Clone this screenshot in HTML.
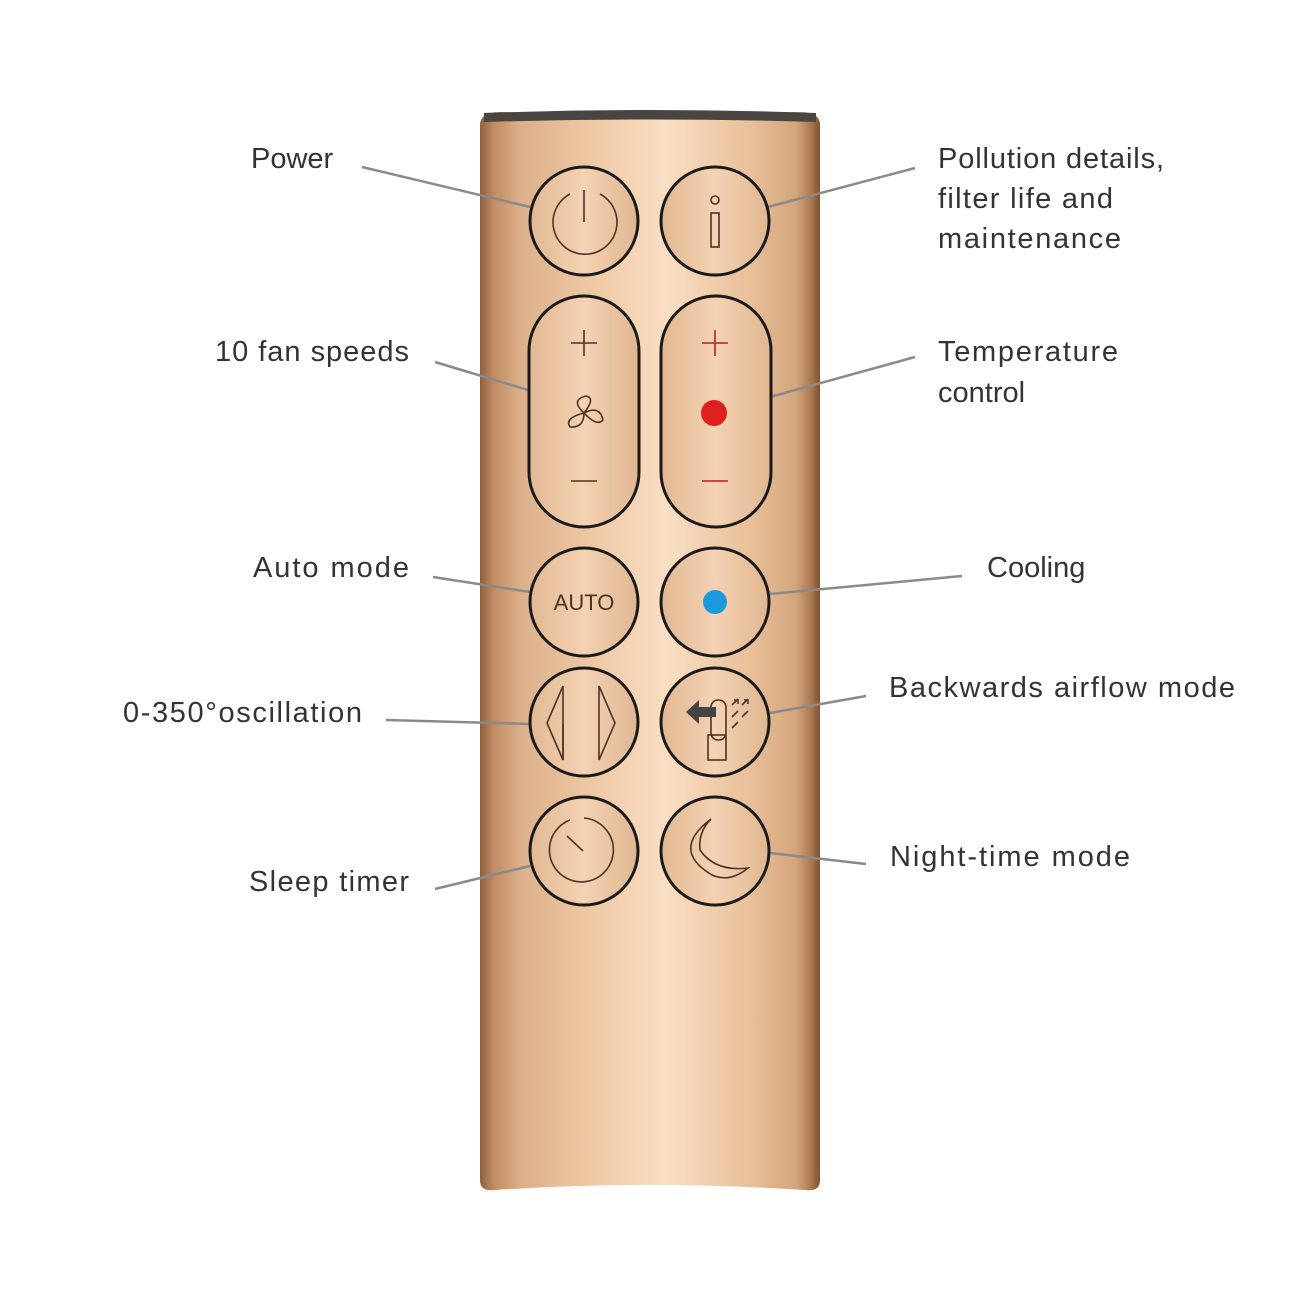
<!DOCTYPE html>
<html><head><meta charset="utf-8"><style>
html,body{margin:0;padding:0;background:#fff;}
svg{display:block}
text{font-family:"Liberation Sans",sans-serif;font-size:29px;fill:#333;}
</style></head><body>
<svg width="1300" height="1300" viewBox="0 0 1300 1300">
<defs>
<linearGradient id="body" x1="0" x2="1" y1="0" y2="0">
<stop offset="0" stop-color="#8e5f3c"/>
<stop offset="0.04" stop-color="#c08c63"/>
<stop offset="0.12" stop-color="#dcb08a"/>
<stop offset="0.35" stop-color="#f0cba8"/>
<stop offset="0.55" stop-color="#f9dec4"/>
<stop offset="0.8" stop-color="#e8bf98"/>
<stop offset="0.93" stop-color="#d4a57c"/>
<stop offset="0.97" stop-color="#b07c55"/>
<stop offset="1" stop-color="#7e5232"/>
</linearGradient>
<linearGradient id="btn" x1="0" x2="1" y1="0" y2="0">
<stop offset="0" stop-color="#e2b892"/>
<stop offset="0.5" stop-color="#f4d2b3"/>
<stop offset="1" stop-color="#e0b690"/>
</linearGradient>
</defs>
<!-- body -->
<path d="M480 125 Q480 112 500 112 L800 112 Q820 112 820 125 L820 1180 Q820 1192 805 1190 Q650 1180 495 1190 Q480 1192 480 1180 Z" fill="url(#body)"/>
<path d="M484 113 Q650 107 816 113 L816 122 Q650 117 484 122 Z" fill="#4a4442"/>
<!-- connectors -->
<g stroke="#8a8a8a" stroke-width="2.5" fill="none">
<line x1="362" y1="167" x2="530" y2="207"/>
<line x1="768" y1="207" x2="915" y2="168"/>
<line x1="435" y1="362" x2="528" y2="390"/>
<line x1="770" y1="397" x2="915" y2="357"/>
<line x1="433" y1="577" x2="530" y2="592"/>
<line x1="770" y1="594" x2="962" y2="576"/>
<line x1="386" y1="720" x2="530" y2="724"/>
<line x1="770" y1="713" x2="866" y2="696"/>
<line x1="435" y1="889" x2="530" y2="866"/>
<line x1="770" y1="853" x2="866" y2="864"/>
</g>
<!-- buttons -->
<g fill="url(#btn)" stroke="#1a1a1a" stroke-width="3">
<circle cx="584" cy="221" r="54"/>
<circle cx="715" cy="221" r="54"/>
<rect x="529" y="296" width="110" height="231" rx="55"/>
<rect x="661" y="296" width="110" height="231" rx="55"/>
<circle cx="584" cy="602" r="54"/>
<circle cx="715" cy="602" r="54"/>
<circle cx="584" cy="722" r="54"/>
<circle cx="715" cy="722" r="54"/>
<circle cx="584" cy="851" r="54"/>
<circle cx="715" cy="851" r="54"/>
</g>
<!-- icons -->
<g stroke="#4a3526" stroke-width="1.6" fill="none">
<path d="M570 194 A32 32 0 1 0 600 194"/>
<line x1="584" y1="190" x2="584" y2="222"/>
<circle cx="715" cy="200" r="4"/>
<rect x="711" y="213" width="8" height="34"/>
<line x1="571" y1="343" x2="597" y2="343"/><line x1="584" y1="330" x2="584" y2="356"/>
<line x1="571" y1="481" x2="597" y2="481"/>
<path d="M584 413 Q570 400 586 396 Q596 398 584 413 M584 413 Q600 405 603 420 Q597 427 584 413 M584 413 Q584 428 570 427 Q564 418 584 413"/>
<line x1="563" y1="724" x2="563" y2="760" /><path d="M563 686 L547 723 L563 760 Z"/>
<path d="M599 686 L615 723 L599 760 Z"/>
<path d="M584 818 A32 32 0 1 1 570 820"/>
<line x1="567" y1="836" x2="583" y2="851"/>
<path d="M711 819 Q670 850 712 875 Q730 883 748 868 Q715 872 700 850 Q698 832 711 819 Z"/>
<rect x="708" y="735" width="18" height="25"/>
<rect x="711" y="700" width="15" height="40" rx="7"/>
<path d="M732 705 l6 -6 M734 700 h4 v4 M732 717 l6 -6 M742 705 l6 -6 M744 700 h4 v4 M732 728 l6 -6 M742 717 l6 -6"/>
</g>
<g stroke="#c0392b" stroke-width="1.8"><line x1="702" y1="343" x2="728" y2="343"/><line x1="715" y1="330" x2="715" y2="356"/><line x1="702" y1="481" x2="728" y2="481"/></g>
<path d="M686 712 L699 700 V707 H716 V717 H699 V724 Z" fill="#444"/>
<circle cx="714" cy="413" r="13" fill="#e0201e"/>
<circle cx="715" cy="602" r="12" fill="#1b9ae0"/>
<text x="584" y="610" text-anchor="middle" style="font-size:22px;fill:#4a3526">AUTO</text>
<!-- labels -->
<text x="251" y="168">Power</text>
<text x="938" y="168" textLength="226">Pollution details,</text>
<text x="938" y="208" textLength="175">filter life and</text>
<text x="938" y="248" textLength="183">maintenance</text>
<text x="215" y="361" textLength="194">10 fan speeds</text>
<text x="938" y="361" textLength="180">Temperature</text>
<text x="938" y="402">control</text>
<text x="253" y="577" textLength="156">Auto mode</text>
<text x="987" y="577">Cooling</text>
<text x="123" y="722" textLength="239">0-350°oscillation</text>
<text x="889" y="697" textLength="346">Backwards airflow mode</text>
<text x="249" y="891" textLength="160">Sleep timer</text>
<text x="890" y="866" textLength="240">Night-time mode</text>
</svg>
</body></html>
